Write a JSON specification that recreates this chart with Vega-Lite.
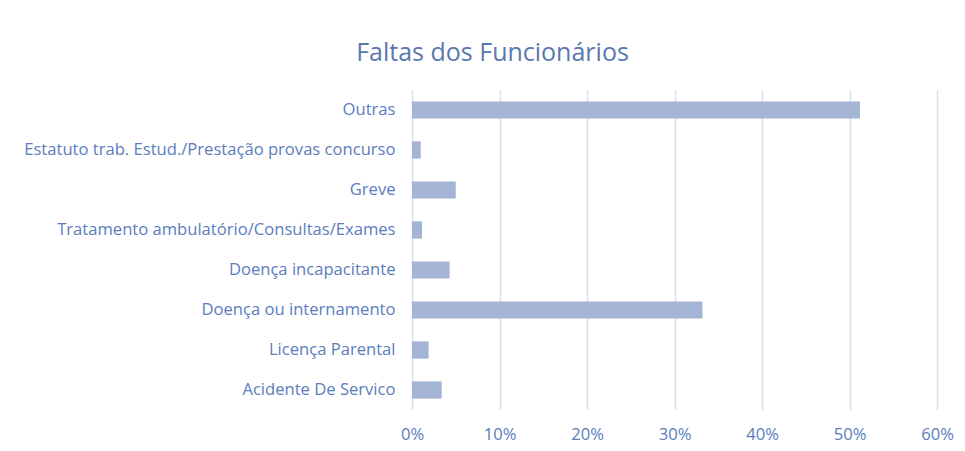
{
  "$schema": "https://vega.github.io/schema/vega-lite/v6.json",
  "autosize": "none",
  "width": 525,
  "height": 320,
  "padding": {"left": 412, "top": 90, "right": 28, "bottom": 41},
  "background": "white",
  "title": {
    "text": "Faltas dos Funcionários",
    "font": "Open Sans",
    "fontSize": 25,
    "fontWeight": "normal",
    "color": "#5a78b0",
    "anchor": "middle",
    "dx": -182,
    "offset": 24
  },
  "data": {
    "values": [
      {"motivo": "Outras", "valor": 0.512},
      {"motivo": "Estatuto trab. Estud./Prestação provas concurso", "valor": 0.010},
      {"motivo": "Greve", "valor": 0.050},
      {"motivo": "Tratamento ambulatório/Consultas/Exames", "valor": 0.0115},
      {"motivo": "Doença incapacitante", "valor": 0.043},
      {"motivo": "Doença ou internamento", "valor": 0.332},
      {"motivo": "Licença Parental", "valor": 0.019},
      {"motivo": "Acidente De Servico", "valor": 0.034}
    ]
  },
  "mark": {"type": "bar", "color": "#a3b4d5"},
  "encoding": {
    "y": {
      "field": "motivo",
      "type": "nominal",
      "sort": null,
      "title": null,
      "scale": {"paddingInner": 0.57, "paddingOuter": 0.285},
      "axis": {
        "domain": false,
        "ticks": false,
        "labelFont": "Open Sans",
        "labelFontSize": 16.6,
        "labelColor": "#5a7dbd",
        "labelPadding": 17,
        "labelLimit": 500
      }
    },
    "x": {
      "field": "valor",
      "type": "quantitative",
      "title": null,
      "scale": {"domain": [0, 0.6], "nice": false},
      "axis": {
        "format": ".0%",
        "values": [0, 0.1, 0.2, 0.3, 0.4, 0.5, 0.6],
        "domain": false,
        "ticks": false,
        "grid": true,
        "gridColor": "#d9dfee",
        "gridWidth": 1.5,
        "labelFlush": false,
        "labelFont": "Open Sans",
        "labelFontSize": 16.6,
        "labelColor": "#5a7dbd",
        "labelPadding": 16
      }
    }
  },
  "config": {"view": {"stroke": null}}
}
